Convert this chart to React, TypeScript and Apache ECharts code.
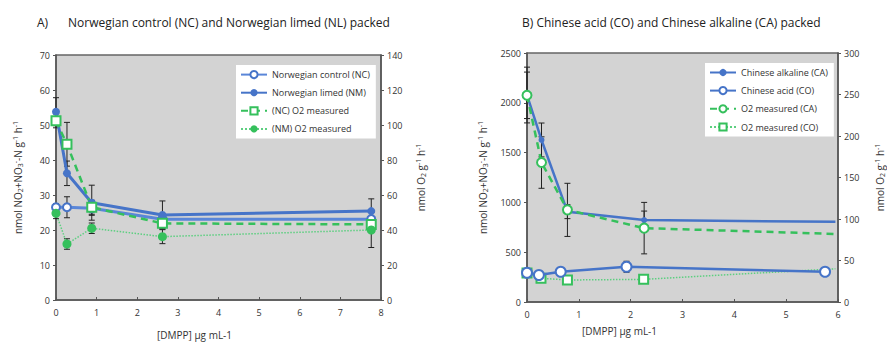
import React, { useEffect, useRef } from "react";
import * as echarts from "echarts";

// ---- Panel A data ----
const xA = [0, 0.27, 0.88, 2.62, 7.76];
const nc = [26.5, 26.5, 26.2, 23.1, 23.1];
const ncErr = [1, 3, 2, 1.5, 2];
const nm = [53.8, 36.2, 27.8, 24.3, 25.4];
const nmErr = [4, 3.5, 5, 4, 3.5];
const ncO2 = [102.4, 89, 53, 43.8, 43.2];
const ncO2Err = [4, 12.5, 4, 3, 4];
const nmO2 = [49.5, 32, 41, 36.2, 40];
const nmO2Err = [3, 3, 3, 4, 10];

// ---- Panel B data ----
const xCA = [0, 0.28, 0.78, 2.26, 5.95];
const ca = [2078, 1627, 907, 823, 805];
const caErr = [280, 170, 70, 90, 0];
const caO2 = [249, 168, 111, 89, 82];
const caO2Err = [28, 31, 32, 31, 0];
const xCO = [0, 0.23, 0.65, 1.92, 5.75];
const co = [294, 271, 304, 354, 304];
const coErr = [40, 15, 20, 55, 40];
const xCOO2 = [0, 0.27, 0.78, 2.25, 5.95];
const coO2 = [35, 28.6, 26.5, 27.3, 40];
// points drawn without a marker (line continues to frame edge)
const hiddenLastCA = [false, false, false, false, true];

const ticksA = { xMax: 8, yLMax: 70, yLInt: 10, yRMax: 140, yRInt: 20 };
const ticksB = { xMax: 6, yLMax: 2500, yLInt: 500, yRMax: 300, yRInt: 50 };

const BLUE = "#4674c8";
const GREEN = "#35c05c";
const GREEN_L = "#5dcf80";
const FONT = "Open Sans";

const pts = (xs: number[], ys: number[], hide?: boolean[]) =>
  xs.map((x, i) => (hide && hide[i] ? { value: [x, ys[i]], symbol: "none" } : [x, ys[i]]));
const errs = (xs: number[], ys: number[], es: number[]) =>
  xs.map((x, i) => [x, ys[i] - es[i], ys[i] + es[i]]).filter((d, i) => es[i] > 0);

const renderErr = (params: any, api: any) => {
  const x = api.value(0);
  const lo = api.coord([x, api.value(1)]);
  const hi = api.coord([x, api.value(2)]);
  const st = { stroke: "#222", lineWidth: 1 };
  return {
    type: "group",
    children: [
      { type: "line", shape: { x1: lo[0], y1: lo[1], x2: hi[0], y2: hi[1] }, style: st },
      { type: "line", shape: { x1: lo[0] - 3, y1: lo[1], x2: lo[0] + 3, y2: lo[1] }, style: st },
      { type: "line", shape: { x1: hi[0] - 3, y1: hi[1], x2: hi[0] + 3, y2: hi[1] }, style: st },
    ],
  };
};

const errSeries = (xi: number, yi: number, data: number[][]) => ({
  type: "custom",
  xAxisIndex: xi,
  yAxisIndex: yi,
  renderItem: renderErr,
  data,
  encode: { x: 0, y: [1, 2] },
  z: 1,
  silent: true,
});

const richName = {
  a: { fontSize: 10, color: "#333", fontFamily: FONT },
  s: { fontSize: 7, color: "#333", fontFamily: FONT, verticalAlign: "bottom", padding: [5, 0, 0, 0] },
  p: { fontSize: 7, color: "#333", fontFamily: FONT, verticalAlign: "top", padding: [0, 0, 5, 0] },
};
const nName = "{a|nmol NO}{s|2}{a|+NO}{s|3}{p|-}{a|-N g}{p|-1}{a| h}{p|-1}";
const oName = "{a|nmol O}{s|2}{a| g}{p|-1}{a| h}{p|-1}";

const axLine = { show: true, lineStyle: { color: "#555", width: 1.5 } };
const axLabel = { fontSize: 9, color: "#333", fontFamily: FONT, formatter: (v: number) => String(v) };

const xAx = (grid: number, max: number) => ({
  type: "value",
  gridIndex: grid,
  min: 0,
  max,
  interval: 1,
  axisLine: axLine,
  axisTick: { show: true, inside: true, length: 3, lineStyle: { color: "#555" } },
  axisLabel: { ...axLabel, margin: 8 },
  splitLine: { show: false },
});

const yAx = (grid: number, pos: string, max: number, interval: number, name: string, gap: number) => ({
  type: "value",
  gridIndex: grid,
  position: pos,
  min: 0,
  max,
  interval,
  name,
  nameLocation: "middle",
  nameRotate: 90,
  nameGap: gap,
  nameTextStyle: { rich: richName },
  axisLine: axLine,
  axisTick: { show: true, length: 3, lineStyle: { color: "#555" } },
  axisLabel: { ...axLabel, margin: 6 },
  splitLine: { show: false },
});

const lineS = (name: string, xi: number, yi: number, data: any[], opts: any) => ({
  type: "line",
  name,
  xAxisIndex: xi,
  yAxisIndex: yi,
  data,
  z: 3,
  ...opts,
});

export default function App() {
  const ref = useRef<HTMLDivElement>(null);
  useEffect(() => {
    if (!ref.current) return;
    const chart = echarts.init(ref.current, undefined, { renderer: "svg" });
    const legendBase = {
      orient: "vertical",
      backgroundColor: "#fff",
      itemWidth: 26,
      itemHeight: 9,
      itemGap: 9,
      padding: [5, 6, 5, 4],
      textStyle: { fontSize: 9, color: "#333", fontFamily: FONT },
    };
    const titleStyle = { fontSize: 12, fontWeight: "normal", color: "#222", fontFamily: FONT };
    chart.setOption({
      animation: false,
      backgroundColor: "#fff",
      title: [
        { text: "A)", left: 32, top: 11, textStyle: titleStyle },
        { text: "Norwegian control (NC) and Norwegian limed (NL) packed", left: 63, top: 11, textStyle: titleStyle },
        { text: "B) Chinese acid (CO) and Chinese alkaline (CA) packed", left: 517, top: 11, textStyle: titleStyle },
      ],
      graphic: [
        { type: "text", left: 157, top: 330, style: { text: "[DMPP] µg mL-1", fontSize: 10, fill: "#333", fontFamily: FONT } },
        { type: "text", left: 582, top: 326, style: { text: "[DMPP] µg mL-1", fontSize: 10, fill: "#333", fontFamily: FONT } },
      ],
      legend: [
        {
          ...legendBase,
          left: 236,
          top: 65,
          data: ["Norwegian control (NC)", "Norwegian limed (NM)", "(NC) O2 measured", "(NM) O2 measured"],
        },
        {
          ...legendBase,
          left: 705,
          top: 63,
          data: ["Chinese alkaline (CA)", "Chinese acid (CO)", "O2 measured (CA)", "O2 measured (CO)"],
        },
      ],
      grid: [
        { left: 56, right: 506, top: 55, bottom: 43, show: true, backgroundColor: "#d3d3d3", borderColor: "#666", borderWidth: 1.5 },
        { left: 527, right: 44, top: 53, bottom: 41, show: true, backgroundColor: "#d3d3d3", borderColor: "#666", borderWidth: 1.5 },
      ],
      xAxis: [xAx(0, ticksA.xMax), xAx(1, ticksB.xMax)],
      yAxis: [
        yAx(0, "left", ticksA.yLMax, ticksA.yLInt, nName, 32),
        yAx(0, "right", ticksA.yRMax, ticksA.yRInt, oName, 34),
        yAx(1, "left", ticksB.yLMax, ticksB.yLInt, nName, 38),
        yAx(1, "right", ticksB.yRMax, ticksB.yRInt, oName, 36),
      ],
      series: [
        errSeries(0, 0, errs(xA, nc, ncErr)),
        errSeries(0, 0, errs(xA, nm, nmErr)),
        errSeries(0, 1, errs(xA, ncO2, ncO2Err)),
        errSeries(0, 1, errs(xA, nmO2, nmO2Err)),
        errSeries(1, 2, errs(xCA, ca, caErr)),
        errSeries(1, 2, errs(xCO, co, coErr)),
        errSeries(1, 3, errs(xCA, caO2, caO2Err)),
        lineS("Norwegian control (NC)", 0, 0, pts(xA, nc), {
          symbol: "emptyCircle",
          symbolSize: 8,
          itemStyle: { color: BLUE, borderWidth: 1.5 },
          lineStyle: { color: "#5a86d8", width: 3 },
        }),
        lineS("Norwegian limed (NM)", 0, 0, pts(xA, nm), {
          symbol: "circle",
          symbolSize: 8,
          itemStyle: { color: BLUE },
          lineStyle: { color: BLUE, width: 3 },
        }),
        lineS("(NC) O2 measured", 0, 1, pts(xA, ncO2), {
          symbol: "emptyRect",
          symbolSize: 9,
          itemStyle: { color: GREEN, borderWidth: 2 },
          lineStyle: { color: GREEN, width: 2.5, type: [7, 5] },
        }),
        lineS("(NM) O2 measured", 0, 1, pts(xA, nmO2), {
          symbol: "circle",
          symbolSize: 9,
          itemStyle: { color: GREEN },
          lineStyle: { color: GREEN_L, width: 1.5, type: "dotted" },
        }),
        lineS("Chinese alkaline (CA)", 1, 2, pts(xCA, ca, hiddenLastCA), {
          symbol: "circle",
          symbolSize: 6,
          itemStyle: { color: BLUE },
          lineStyle: { color: BLUE, width: 2.5 },
        }),
        lineS("Chinese acid (CO)", 1, 2, pts(xCO, co), {
          symbol: "emptyCircle",
          symbolSize: 10,
          z: 4,
          itemStyle: { color: BLUE, borderWidth: 2.5 },
          lineStyle: { color: BLUE, width: 2.5 },
        }),
        lineS("O2 measured (CA)", 1, 3, pts(xCA, caO2, hiddenLastCA), {
          symbol: "emptyCircle",
          symbolSize: 9,
          itemStyle: { color: GREEN, borderWidth: 2 },
          lineStyle: { color: GREEN, width: 2.5, type: [7, 5] },
        }),
        lineS("O2 measured (CO)", 1, 3, pts(xCOO2, coO2, hiddenLastCA), {
          symbol: "emptyRect",
          symbolSize: 9,
          itemStyle: { color: GREEN, borderWidth: 2 },
          lineStyle: { color: GREEN_L, width: 1.5, type: "dotted" },
        }),
      ],
    });
    return () => chart.dispose();
  }, []);
  return <div ref={ref} style={{ width: 887, height: 343, position: "absolute", left: 0, top: 0 }} />;
}
